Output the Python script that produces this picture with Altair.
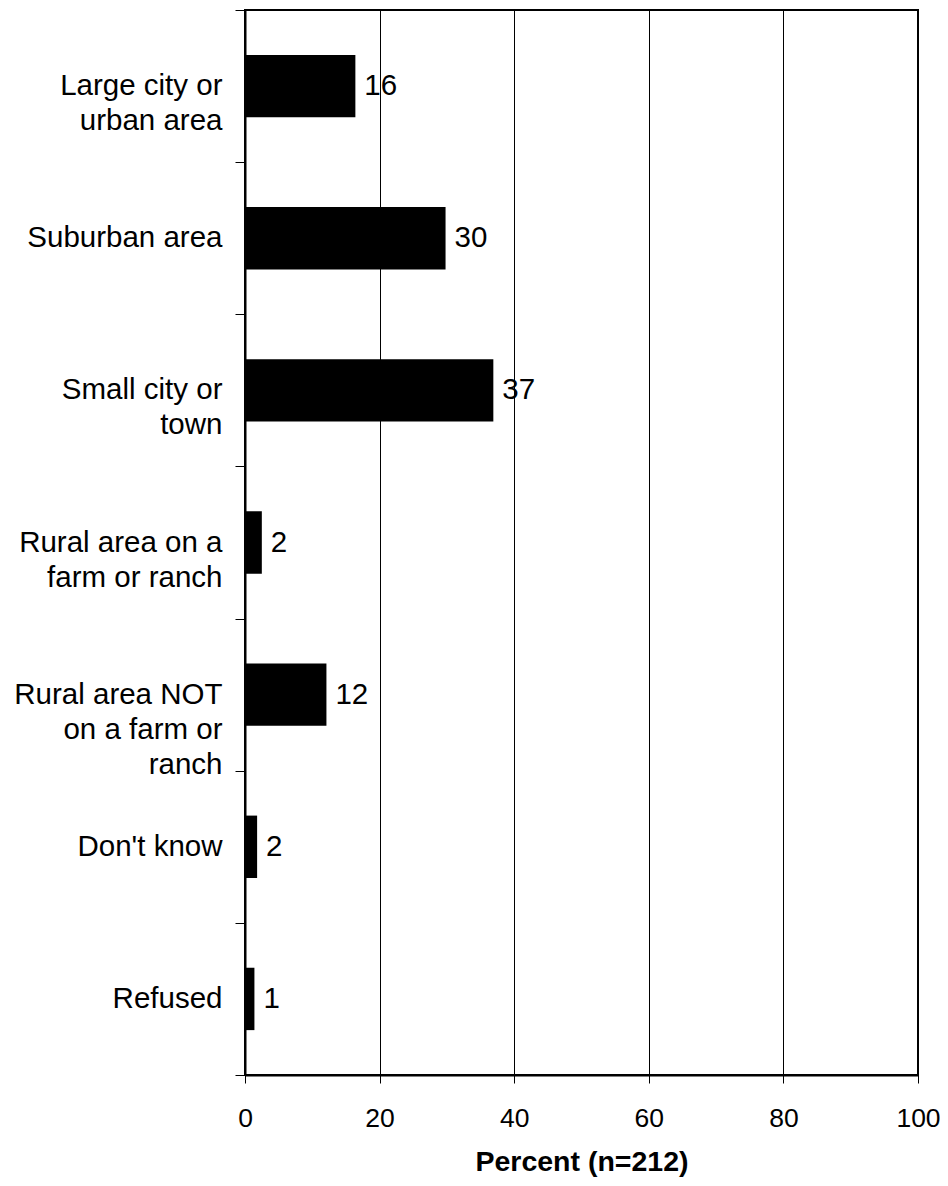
import altair as alt
import pandas as pd

categories = [
    "Large city or\nurban area",
    "Suburban area",
    "Small city or\ntown",
    "Rural area on a\nfarm or ranch",
    "Rural area NOT\non a farm or\nranch",
    "Don't know",
    "Refused",
]
values = [16.4, 29.8, 36.9, 2.5, 12.1, 1.8, 1.4]
labels = ["16", "30", "37", "2", "12", "2", "1"]
x_ticks = [0, 20, 40, 60, 80, 100]
boundaries = list(range(len(categories) + 1))

df = pd.DataFrame({"cat": categories, "value": values, "label": labels})
bdf = pd.DataFrame({"b": boundaries})

FONT = "Liberation Sans"
FS = 29.5

y_enc = alt.Y(
    "cat:N",
    sort=categories,
    scale=alt.Scale(paddingInner=0.59, paddingOuter=0.295),
    axis=alt.Axis(
        title=None,
        orient="left",
        ticks=False,
        tickSize=0,
        domain=False,
        labelPadding=23,
        labelFontSize=FS,
        labelFont=FONT,
        labelColor="black",
        labelLineHeight=35,
        labelExpr="split(datum.label, '\\n')",
        labelLimit=400,
    ),
)

x_enc = alt.X(
    "value:Q",
    scale=alt.Scale(domain=[0, 100], nice=False),
    axis=alt.Axis(
        values=x_ticks,
        title="Percent (n=212)",
        titleFont=FONT,
        titleFontSize=28.5,
        titleFontWeight="bold",
        titleColor="black",
        titlePadding=16,
        labelFont=FONT,
        labelFontSize=26.5,
        labelColor="black",
        labelPadding=22,
        labelFlush=False,
        tickSize=8,
        tickColor="black",
        tickWidth=1,
        domainColor="black",
        domainWidth=2,
        grid=True,
        gridColor="black",
        gridWidth=1,
        gridOpacity=1,
    ),
)

bars = alt.Chart(df).mark_bar(color="black").encode(x=x_enc, y=y_enc)

text = alt.Chart(df).mark_text(
    align="left", baseline="middle", dx=9, fontSize=FS, font=FONT, color="black"
).encode(x="value:Q", y=alt.Y("cat:N", sort=categories), text="label:N")

main = alt.layer(bars, text)

ticks = alt.Chart(bdf).mark_rule(opacity=0).encode(
    y=alt.Y(
        "b:Q",
        scale=alt.Scale(domain=[0, len(categories)], nice=False, zero=False),
        axis=alt.Axis(
            orient="left",
            values=boundaries,
            labels=False,
            title=None,
            grid=False,
            tickSize=10,
            tickColor="black",
            tickWidth=1,
            domainColor="black",
            domainWidth=2,
        ),
    ),
    x=alt.value(0),
    x2=alt.value(1),
)

chart = (
    alt.layer(main, ticks)
    .resolve_scale(y="independent")
    .properties(
        width=673,
        height=1065,
        background="white",
        autosize=alt.AutoSizeParams(type="none"),
        padding={"left": 237, "top": 2, "right": 22, "bottom": 102},
    )
    .configure_view(stroke="#000000", strokeWidth=2)
)

chart.save("out.html", embed_options={"renderer": "svg", "actions": False})
